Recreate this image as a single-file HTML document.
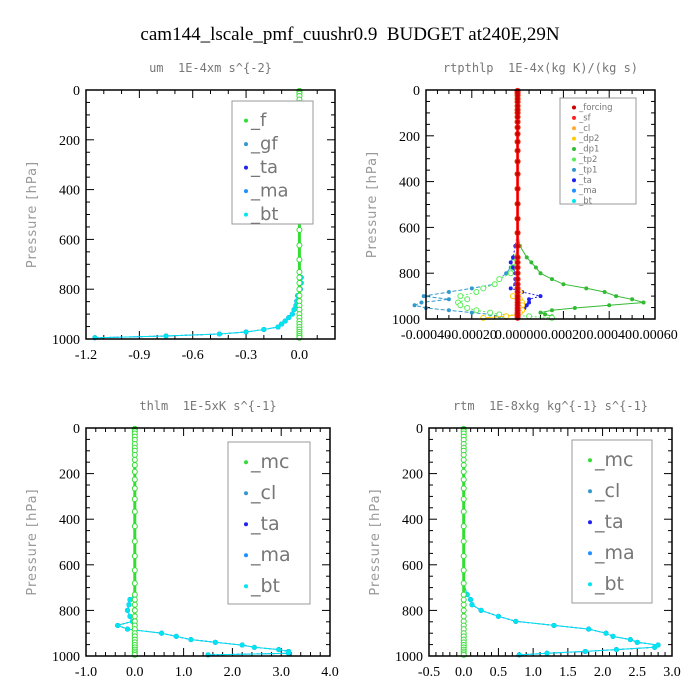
<!DOCTYPE html>
<html><head><meta charset="utf-8"><style>
body{margin:0;background:#fff}
svg{display:block}
text{white-space:pre}
.tl{font-family:"Liberation Serif",serif;font-size:14px;fill:#000}
.st{font-family:"DejaVu Sans Mono","Liberation Mono",monospace;font-size:12px;fill:#777}
.yt{font-family:"DejaVu Sans","Liberation Sans",sans-serif;font-size:13px;fill:#999;letter-spacing:1px}
.lg{font-family:"DejaVu Sans","Liberation Sans",sans-serif;fill:#777}
</style></head><body>
<svg id="c" width="700" height="700" viewBox="0 0 700 700" xmlns="http://www.w3.org/2000/svg">
<text x="350" y="40" text-anchor="middle" font-family="Liberation Serif,serif" font-size="19">cam144_lscale_pmf_cuushr0.9  BUDGET at240E,29N</text>
</svg>
<script>
// ---- data ----
const levels = [3.6,7.6,14,24,38,52,70,86,100,118,139,163,192,226,265,312,367,431,497,562,624,681,731,753,775,800,826,848,866,882,900,914,928,940,952,962,972,980,988,995];
const umBt   = [0,0,0,0,0,0,0,0,0,0,0,0,0,0,0,0,0,0,0,0,0,0,0,0.01,0.01,0.005,-0.01,-0.015,-0.02,-0.03,-0.04,-0.06,-0.08,-0.1,-0.12,-0.2,-0.3,-0.45,-0.75,-1.15];
const thBt   = [0,0,0,0,0,0,0,0,0,0,0,0,0,0,0,0,0,0,0,0,0,0,0,-0.1,-0.12,-0.15,-0.1,-0.05,-0.35,-0.15,0.55,0.85,1.15,1.65,2.2,2.45,2.95,3.15,3.15,1.5];
const rtBt   = [0,0,0,0,0,0,0,0,0,0,0,0,0,0,0,0,0,0,0,0,0,0,0.05,0.1,0.12,0.25,0.5,0.75,1.3,1.8,2.05,2.15,2.4,2.5,2.8,2.75,2.2,1.75,1.2,0.8];
const fDp1 = [0,0,0,0,0,0,0,0,0,0,0,0,0,0,0,0,0,0,0,0,0,0.00001,0.00004,0.00006,0.00008,0.0001,0.00015,0.0002,0.0003,0.00038,0.00043,0.0005,0.00055,0.0004,0.00025,0.00015,0.0001,0.00012,0.00015,0.00015];
const fTp1 = [0,0,0,0,0,0,0,0,0,0,0,0,0,0,0,0,0,0,0,0,0,0,-0.00001,-0.00002,-0.00003,-0.00005,-0.00008,-0.0001,-0.0002,-0.0003,-0.00041,-0.0003,-0.00042,-0.00045,-0.0004,-0.0003,-0.0002,-0.00012,-0.00008,-0.00005];
const fTp2 = [0,0,0,0,0,0,0,0,0,0,0,0,0,0,0,0,0,0,0,0,0,0,-0.00001,-0.00002,-0.00002,-0.00003,-0.00008,-0.0001,-0.00015,-0.00018,-0.00025,-0.00022,-0.00026,-0.00025,-0.00022,-0.00018,-0.00012,-0.00008,0.00005,0.00015];
const fTa  = [0,0,0,0,0,0,0,0,0,0,0,0,0,0,0,0,0,0,0,0,0,-0.00001,-0.00002,-0.00003,-0.00002,-0.00001,-0.00001,-0.00001,-0.00003,0.00002,0.0001,0.00005,0.00005,0.00004,0.00003,0.00002,0.00001,0,0,0];
const fDp2 = [0,0,0,0,0,0,0,0,0,0,0,0,0,0,0,0,0,0,0,0,0,0,0,0,0,0,0,0,0,0.00001,-0.00002,0.00001,0.00002,0.00002,0.00001,0.00002,0.00001,0,-0.00005,-0.00015];
const zeros = levels.map(()=>0);
const umTicks=["-1.2","-0.9","-0.6","-0.3","0.0"], fTicks=["-0.00040","-0.00020","0.00000","0.00020","0.00040","0.00060"];
const thTicks=["-1.0","0.0","1.0","2.0","3.0","4.0"], rtTicks=["-0.5","0.0","0.5","1.0","1.5","2.0","2.5","3.0"];
const pTicks=[0,200,400,600,800,1000];

const NS="http://www.w3.org/2000/svg", svg=document.getElementById('c');
function el(t,a,p){const e=document.createElementNS(NS,t);for(const k in a)e.setAttribute(k,a[k]);(p||svg).appendChild(e);return e;}

function panel(o){
  const g=el('g',{});
  
  
  const X=v=>o.x0+(v-o.xmin)/(o.xmax-o.xmin)*(o.x1-o.x0);
  const Y=p=>o.y0+p/1000*(o.y1-o.y0);
  for(let p=0;p<=1000;p+=50){const y=Y(p),L=p%200==0?8:4;
    el('line',{x1:o.x0,x2:o.x0+L,y1:y,y2:y,stroke:'#000'},g);el('line',{x1:o.x1,x2:o.x1-L,y1:y,y2:y,stroke:'#000'},g);}
  pTicks.forEach(p=>{const t=el('text',{x:o.x0-6,y:Y(p)+5,'text-anchor':'end',class:'tl'},g);t.textContent=p;
    });
  const step=o.tstep, ms=step/o.minor, nm=Math.round((o.xmax-o.xmin)/ms);
  for(let i=0;i<=nm;i++){const v=o.xmin+i*ms,x=X(v),L=i%o.minor==0?8:4;
    el('line',{x1:x,x2:x,y1:o.y0,y2:o.y0+L,stroke:'#000'},g);el('line',{x1:x,x2:x,y1:o.y1,y2:o.y1-L,stroke:'#000'},g);}
  o.ticks.forEach((s,i)=>{const t=el('text',{x:X(o.xmin+i*step),y:o.y1+20,'text-anchor':'middle',class:'tl'},g);t.textContent=s;
    });
  const yt=el('text',{x:0,y:0,class:'yt','text-anchor':'middle',transform:`translate(${o.x0-50},${(o.y0+o.y1)/2}) rotate(-90)`},g);
  yt.textContent='Pressure [hPa]';
  const st=el('text',{x:(o.x0+o.x1)/2,y:o.y0-18,class:'st','text-anchor':'middle'},g);st.textContent=o.title;
  
  o.series.forEach(s=>{
    const d=s.v.map((v,i)=>(i?'L':'M')+X(v).toFixed(1)+' '+Y(levels[i]).toFixed(1)).join('');
    const pa=el('path',{d:d,fill:'none',stroke:s.c,'stroke-width':s.w||1,'stroke-dasharray':s.dash||'none'},g);
    
    s.v.forEach((v,i)=>{const c=el('circle',{cx:X(v),cy:Y(levels[i]),r:s.r||2,fill:s.mf||s.c,stroke:s.c},g);
      });
  });
  el('rect',{x:o.x0,y:o.y0,width:o.x1-o.x0,height:o.y1-o.y0,fill:'none',stroke:'#000','stroke-width':1.5},g);
  const L=o.leg, lg=el('g',{},g);
  
  el('rect',{x:L.x,y:L.y,width:L.w,height:L.h,fill:'#fff',stroke:'#999'},lg);
  L.items.forEach((it,i)=>{const y=L.y+L.top+i*L.dy;
    el('circle',{cx:L.x+L.mx,cy:y-L.fs*0.3,r:2,fill:it[1]},lg);
    const t=el('text',{x:L.x+L.mx+5,y:y,class:'lg','font-size':L.fs},lg);t.textContent=it[0];
    });
}

const blueS = v=>[{n:'ma',v:v,c:'#1e90ff',dash:'3,2'},{n:'ta',v:v,c:'#2222ee',dash:'2,2'},{n:'bt',v:v,c:'#00e5ee',r:2}];
panel({name:'um-panel',x0:86,x1:335,y0:90,y1:339,xmin:-1.2,xmax:0.2,tstep:0.3,ticks:umTicks,minor:3,title:'um  1E-4xm s^{-2}',
  series:[...blueS(umBt),{n:'f',v:zeros,c:'#33dd33',w:3,mf:'#fff',r:2.5}],
  leg:{x:232,y:101,w:81,h:123,top:25,dy:23.5,mx:14,fs:18,items:[['_f','#33dd33'],['_gf','#3399cc'],['_ta','#2222ee'],['_ma','#1e90ff'],['_bt','#00e5ee']]}});
panel({name:'rtpthlp-panel',x0:426,x1:655,y0:90,y1:319,xmin:-0.0004,xmax:0.0006,tstep:0.0002,ticks:fTicks,minor:4,title:'rtpthlp  1E-4x(kg K)/(kg s)',
  series:[{n:'dp1',v:fDp1,c:'#33bb33',r:1.5},{n:'tp1',v:fTp1,c:'#3399cc',dash:'4,2',r:1.5},{n:'tp2',v:fTp2,c:'#55ee55',dash:'2,2',mf:'#fff',r:2.5},
    {n:'ta',v:fTa,c:'#2222ee',dash:'2,2',r:1.5},{n:'dp2',v:fDp2,c:'#ffcc00',mf:'#fff',r:2.5},{n:'cl',v:zeros,c:'#ffaa33',w:2},{n:'sf',v:zeros,c:'#ff2222',w:3,r:2.5},{n:'forcing',v:zeros,c:'#cc0000',w:1,r:1.5}],
  leg:{x:560,y:98,w:76,h:106,top:12,dy:10.4,mx:14,fs:8.5,items:[['_forcing','#cc0000'],['_sf','#ff2222'],['_cl','#ffaa33'],['_dp2','#ffcc00'],['_dp1','#33bb33'],['_tp2','#55ee55'],['_tp1','#3399cc'],['_ta','#2222ee'],['_ma','#1e90ff'],['_bt','#00e5ee']]}});
panel({name:'thlm-panel',x0:86,x1:330,y0:428,y1:656,xmin:-1,xmax:4,tstep:1,ticks:thTicks,minor:5,title:'thlm  1E-5xK s^{-1}',
  series:[...blueS(thBt),{n:'mc',v:zeros,c:'#33dd33',w:3,mf:'#fff',r:2.5}],
  leg:{x:228,y:442,w:82,h:162,top:26,dy:31,mx:18,fs:19,items:[['_mc','#33dd33'],['_cl','#3399cc'],['_ta','#2222ee'],['_ma','#1e90ff'],['_bt','#00e5ee']]}});
panel({name:'rtm-panel',x0:429,x1:672,y0:428,y1:656,xmin:-0.5,xmax:3,tstep:0.5,ticks:rtTicks,minor:5,title:'rtm  1E-8xkg kg^{-1} s^{-1}',
  series:[...blueS(rtBt),{n:'mc',v:zeros,c:'#33dd33',w:3,mf:'#fff',r:2.5}],
  leg:{x:572,y:440,w:80,h:163,top:26,dy:31,mx:18,fs:19,items:[['_mc','#33dd33'],['_cl','#3399cc'],['_ta','#2222ee'],['_ma','#1e90ff'],['_bt','#00e5ee']]}});
</script>
</body></html>
